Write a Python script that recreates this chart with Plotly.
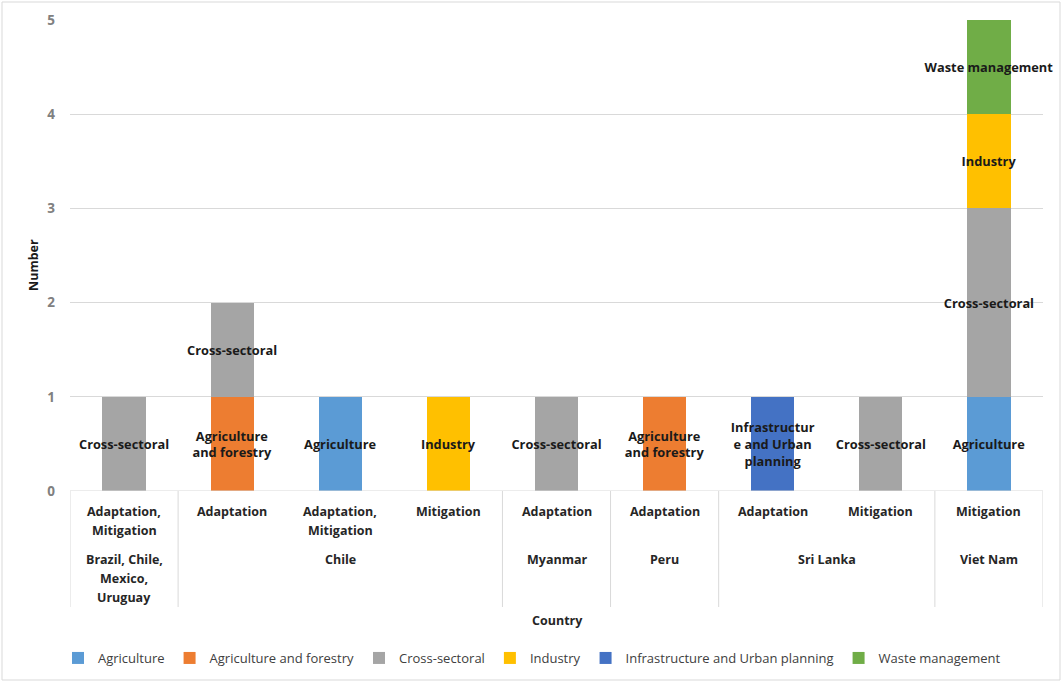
import plotly.graph_objects as go

# ---- data ----
types = ["Adaptation, Mitigation", "Adaptation", "Adaptation, Mitigation", "Mitigation",
         "Adaptation", "Adaptation", "Adaptation", "Mitigation", "Mitigation"]
countries = ["Brazil, Chile, Mexico, Uruguay", "Chile", "Chile", "Chile",
             "Myanmar", "Peru", "Sri Lanka", "Sri Lanka", "Viet Nam"]
sectors = ["Agriculture", "Agriculture and forestry", "Cross-sectoral", "Industry",
           "Infrastructure and Urban planning", "Waste management"]
agriculture = [0, 0, 1, 0, 0, 0, 0, 0, 1]
agri_forestry = [0, 1, 0, 0, 0, 1, 0, 0, 0]
cross_sectoral = [1, 1, 0, 0, 1, 0, 0, 1, 2]
industry = [0, 0, 0, 1, 0, 0, 0, 0, 1]
infrastructure = [0, 0, 0, 0, 0, 0, 1, 0, 0]
waste = [0, 0, 0, 0, 0, 0, 0, 0, 1]
y_ticks = [0, 1, 2, 3, 4, 5]

# ---- styling ----
series = [agriculture, agri_forestry, cross_sectoral, industry, infrastructure, waste]
colors = ["#5B9BD5", "#ED7D31", "#A5A5A5", "#FFC000", "#4472C4", "#70AD47"]
bar_text = {
    "Agriculture": "Agriculture",
    "Agriculture and forestry": "Agriculture<br>and forestry",
    "Cross-sectoral": "Cross-sectoral",
    "Industry": "Industry",
    "Infrastructure and Urban planning": "Infrastructur<br>e and Urban<br>planning",
    "Waste management": "Waste management",
}
type_lines = {"Adaptation, Mitigation": ["Adaptation,", "Mitigation"]}
country_lines = {"Brazil, Chile, Mexico, Uruguay": ["Brazil, Chile,", "Mexico,", "Uruguay"]}

W, H = 1064, 684
L, R, T, B = 70, 1043, 20, 491
FONT = "Open Sans"
GRID = "#d9d9d9"
LINE_H = 19

def px(xp):
    return (xp - L) / (R - L)

def py(yp):
    return (B - yp) / (B - T)

xs = list(range(len(types)))
fig = go.Figure()
for name, vals, col in zip(sectors, series, colors):
    fig.add_trace(go.Bar(
        x=xs, y=vals, name=name, marker_color=col, marker_line_width=0,
        text=[bar_text[name] if v > 0 else "" for v in vals],
        textposition="inside", insidetextanchor="middle", constraintext="none",
        textangle=0, cliponaxis=False,
        textfont=dict(family=FONT, size=12.8, color="#1a1a1a", weight="bold"),
        hoverinfo="skip",
    ))

annotations = []
shapes = []
label_font = dict(family=FONT, size=12.5, color="#262626", weight="bold")
# type labels
for i, t in enumerate(types):
    for k, line in enumerate(type_lines.get(t, [t])):
        annotations.append(dict(x=i, xref="x", y=py(511 + k * LINE_H), yref="paper",
                                yanchor="middle", text=line, showarrow=False, font=label_font))
# country groups
groups = []
for i, c in enumerate(countries):
    if groups and groups[-1][0] == c:
        groups[-1][2] = i
    else:
        groups.append([c, i, i])
for c, s, e in groups:
    for k, line in enumerate(country_lines.get(c, [c])):
        annotations.append(dict(x=(s + e) / 2, xref="x", y=py(559 + k * LINE_H), yref="paper",
                                yanchor="middle", text=line, showarrow=False, font=label_font))
bounds = [groups[0][1] - 0.5] + [g[2] + 0.5 for g in groups]
for b in bounds:
    shapes.append(dict(type="line", xref="x", yref="paper", x0=b, x1=b, y0=0, y1=py(607),
                       line=dict(color=GRID, width=1)))
# baseline
shapes.append(dict(type="line", xref="paper", yref="y", x0=0, x1=1, y0=0, y1=0,
                   line=dict(color=GRID, width=1)))
# outer border
shapes.append(dict(type="rect", xref="paper", yref="paper", x0=px(2), x1=px(1060),
                   y0=py(680), y1=py(2), line=dict(color="#d9d9d9", width=1)))

annotations.append(dict(x=px(33), xref="paper", xanchor="center", y=py(265), yref="paper",
                        yanchor="middle", text="Number", textangle=-90, showarrow=False,
                        font=dict(family=FONT, size=12.5, color="#1a1a1a", weight="bold")))
annotations.append(dict(x=px(557), xref="paper", xanchor="center", y=py(620), yref="paper",
                        yanchor="middle", text="Country", showarrow=False, font=label_font))

fig.update_layout(
    width=W, height=H,
    margin=dict(l=L, r=W - R, t=T, b=H - B, autoexpand=False),
    barmode="stack", bargap=0.6,
    paper_bgcolor="white", plot_bgcolor="white",
    showlegend=True,
    legend=dict(orientation="h", x=0.5, xanchor="center", xref="container",
                y=(H - 658) / H, yref="container", yanchor="middle",
                traceorder="normal", itemwidth=30,
                font=dict(family=FONT, size=13, color="#404040"),
                itemclick=False, itemdoubleclick=False),
    xaxis=dict(range=[-0.5, len(types) - 0.5], showticklabels=False, showgrid=False,
               zeroline=False, showline=False, fixedrange=True),
    yaxis=dict(range=[0, 5], tickvals=y_ticks, showgrid=True, gridcolor=GRID, gridwidth=1,
               zeroline=False, showline=False, ticks="", ticklabelstandoff=14,
               tickfont=dict(family=FONT, size=13.5, color="#808080", weight="bold"),
               fixedrange=True),
    annotations=annotations, shapes=shapes,
    font=dict(family=FONT),
)

fig.write_html("out.html")
